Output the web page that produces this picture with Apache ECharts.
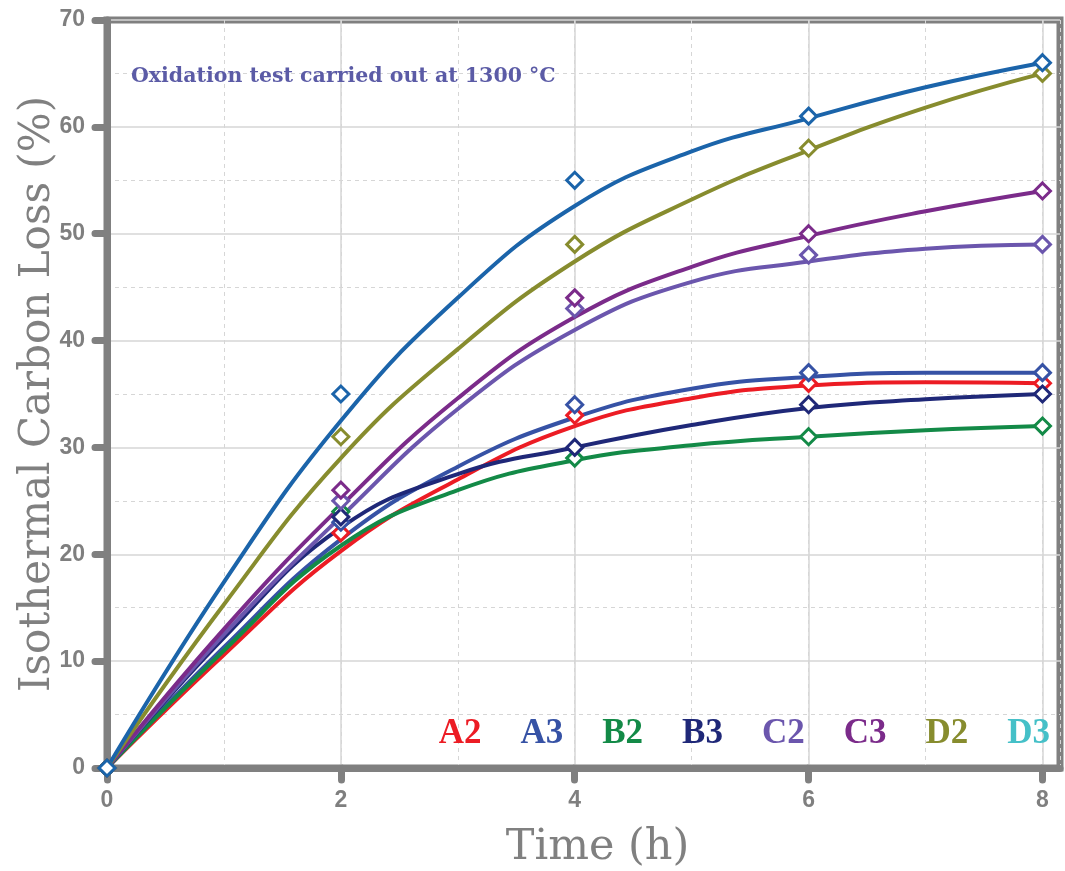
<!DOCTYPE html>
<html><head><meta charset="utf-8">
<script src="https://cdn.jsdelivr.net/npm/echarts@6/dist/echarts.min.js"></script>
<style>html,body{margin:0;padding:0;background:#fff}#c{width:1065px;height:871px}</style>
</head><body><div id="c"></div>
<script>
// Sample names (legend order)
const names = ['A2', 'A3', 'B2', 'B3', 'C2', 'C3', 'D2', 'D3'];
// Measurement times (h)
const timePoints = [0, 2, 4, 6, 8];
// Measured isothermal carbon loss (%) at timePoints
const measA2 = [0, 22, 33, 36, 36];
const measA3 = [0, 23, 34, 37, 37];
const measB2 = [0, 24, 29, 31, 32];
const measB3 = [0, 23.5, 30, 34, 35];
const measC2 = [0, 25, 43, 48, 49];
const measC3 = [0, 26, 44, 50, 54];
const measD2 = [0, 31, 49, 58, 65];
const measD3 = [0, 35, 55, 61, 66];
// Fitted trend curves at each hour
const curveTimes = [0, 1, 2, 3, 4, 5, 6, 7, 8];
const fitA2 = [0, 10.6, 20.3, 27.0, 32.0, 34.6, 35.8, 36.1, 36.0];
const fitA3 = [0, 11.3, 21.4, 28.2, 32.8, 35.5, 36.6, 37.0, 37.0];
const fitB2 = [0, 11.0, 20.8, 26.0, 28.8, 30.2, 31.0, 31.6, 32.0];
const fitB3 = [0, 12.2, 22.5, 27.5, 30.0, 32.1, 33.7, 34.5, 35.0];
const fitC2 = [0, 12.5, 23.5, 33.6, 41.0, 45.5, 47.4, 48.6, 49.0];
const fitC3 = [0, 13.0, 24.5, 34.6, 42.2, 46.9, 49.8, 52.1, 54.0];
const fitD2 = [0, 15.3, 29.0, 39.2, 47.4, 53.2, 57.8, 61.8, 65.0];
const fitD3 = [0, 17.4, 32.5, 44.0, 52.6, 57.7, 60.8, 63.7, 66.0];
// Tick labels
const xTicks = [0, 2, 4, 6, 8];

const measured = [measA2, measA3, measB2, measB3, measC2, measC3, measD2, measD3];
const fitted = [fitA2, fitA3, fitB2, fitB3, fitC2, fitC3, fitD2, fitD3];
const lineColors = ['#ec1c24', '#3652a5', '#138a47', '#1f2878', '#6b56ad', '#7b2b8a', '#878c2e', '#1b64aa'];
const labelColors = ['#ec1c24', '#3652a5', '#138a47', '#1f2878', '#6b56ad', '#7b2b8a', '#878c2e', '#45c0c8'];

const gray = '#808080';
const series = [];
names.forEach((n, i) => {
  series.push({
    name: n, type: 'line', smooth: 0.45, showSymbol: false,
    data: curveTimes.map((t, k) => [t, fitted[i][k]]),
    lineStyle: { color: lineColors[i], width: 4 },
    itemStyle: { color: lineColors[i] }, z: 3, silent: true
  });
});
names.forEach((n, i) => {
  series.push({
    name: n, type: 'scatter', symbol: 'diamond', symbolSize: 16,
    data: timePoints.map((t, k) => [t, measured[i][k]]),
    itemStyle: { color: '#ffffff', borderColor: lineColors[i], borderWidth: 3, opacity: 1 }, z: 4
  });
});

const chart = echarts.init(document.getElementById('c'));
chart.setOption({
  animation: false,
  backgroundColor: '#ffffff',
  title: {
    text: 'Oxidation test carried out at 1300 °C', left: 126, top: 61,
    textStyle: { color: '#5b5ba6', fontFamily: 'DejaVu Serif', fontWeight: 'bold', fontSize: 20.5 }
  },
  legend: {
    data: names.map((n, i) => ({ name: n, textStyle: { color: labelColors[i] } })),
    icon: 'none', itemWidth: 0, itemHeight: 10, itemGap: 34, right: 10, top: 711,
    selectedMode: false,
    textStyle: { fontFamily: 'Liberation Serif', fontWeight: 'bold', fontSize: 35 }
  },
  grid: { left: 107, right: 5, top: 20, bottom: 103, show: true, borderColor: gray, borderWidth: 7, containLabel: false, outerBoundsMode: 'none' },
  xAxis: [{
    type: 'value', min: 0, max: 8.15, interval: 2, position: 'bottom',
    name: 'Time (h)', nameLocation: 'middle', nameGap: 58, nameMoveOverlap: false,
    nameTextStyle: { color: gray, fontFamily: 'DejaVu Serif', fontSize: 43, padding: [0, 0, 0, 28] },
    axisLine: { show: true, lineStyle: { color: gray, width: 7, cap: 'round' } },
    axisTick: { show: true, customValues: xTicks, inside: false, length: 12, lineStyle: { color: gray, width: 7, cap: 'round' } },
    axisLabel: { customValues: xTicks, margin: 21, color: '#7f7f7f', fontFamily: 'Liberation Sans', fontWeight: 'bold', fontSize: 23 },
    splitLine: { show: true, lineStyle: { color: '#d6d6d6', width: 1.5 } }
  }, {
    type: 'value', min: 0, max: 8.15, interval: 1, position: 'top',
    axisLine: { show: false }, axisTick: { show: false }, axisLabel: { show: false },
    splitLine: { show: true, lineStyle: { color: '#d6d6d6', width: 1, type: [4, 4] } }
  }],
  yAxis: {
    type: 'value', min: 0, max: 70, interval: 10,
    name: 'Isothermal Carbon Loss (%)', nameLocation: 'middle', nameGap: 48, nameMoveOverlap: false,
    nameTextStyle: { color: gray, fontFamily: 'DejaVu Serif', fontSize: 42 },
    axisLine: { show: true, lineStyle: { color: gray, width: 7, cap: 'round' } },
    axisTick: { show: true, inside: false, length: 12, lineStyle: { color: gray, width: 7, cap: 'round' } },
    axisLabel: { margin: 22, color: '#7f7f7f', fontFamily: 'Liberation Sans', fontWeight: 'bold', fontSize: 23 },
    splitLine: { show: true, lineStyle: { color: '#d6d6d6', width: 1.5 } },
    minorTick: { show: false, splitNumber: 2 },
    minorSplitLine: { show: true, lineStyle: { color: '#d6d6d6', width: 1, type: [4, 4] } }
  },
  series: series
});
</script></body></html>
